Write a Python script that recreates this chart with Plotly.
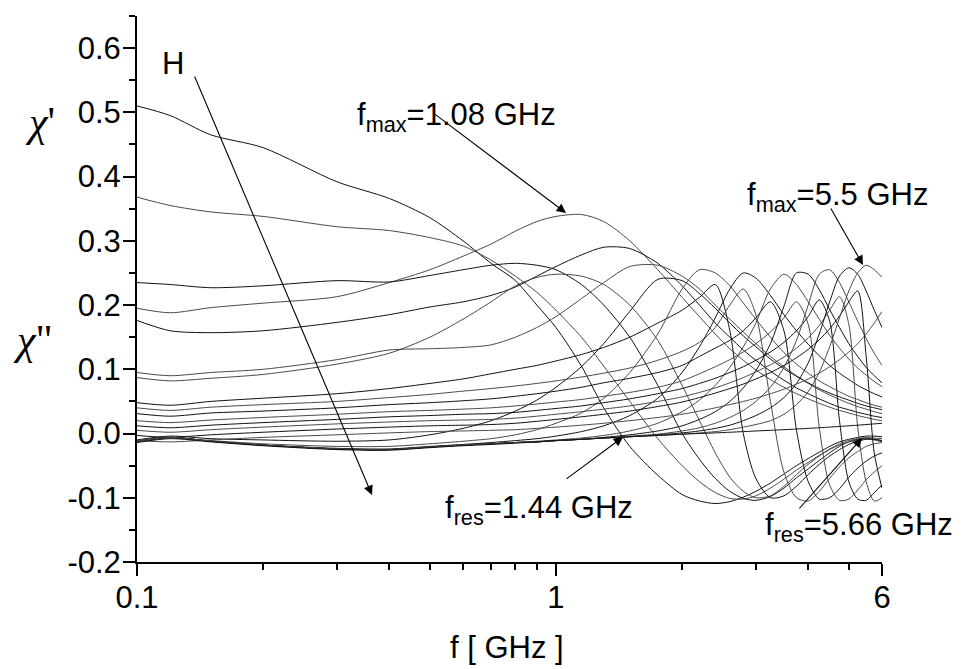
import math
import plotly.graph_objects as go

# frequency grid [GHz]
F = [0.1, 0.12, 0.15, 0.2, 0.3, 0.4, 0.5, 0.6, 0.7, 0.8, 0.9, 1.0, 1.15, 1.3, 1.5,
     1.75, 2.0, 2.2, 2.4, 2.6, 2.8, 3.0, 3.25, 3.5, 3.75, 4.0, 4.25, 4.5, 4.75, 5.0,
     5.25, 5.5, 5.75, 6.0]

# chi' (real part) for increasing field H
X1 = [0.510, 0.495, 0.465, 0.445, 0.392, 0.366, 0.336, 0.300, 0.265, 0.238, 0.200, 0.165, 0.105, 0.040, -0.020, -0.065, -0.095, -0.105, -0.109, -0.106, -0.099, -0.090, -0.077, -0.063, -0.050, -0.039, -0.029, -0.020, -0.013, -0.009, -0.006, -0.004, -0.004, -0.005]
X2 = [0.368, 0.355, 0.345, 0.338, 0.322, 0.316, 0.305, 0.292, 0.270, 0.245, 0.220, 0.192, 0.150, 0.105, 0.050, -0.008, -0.050, -0.075, -0.092, -0.101, -0.102, -0.097, -0.085, -0.071, -0.057, -0.045, -0.034, -0.024, -0.016, -0.011, -0.008, -0.006, -0.007, -0.008]
X3 = [0.235, 0.232, 0.227, 0.230, 0.238, 0.236, 0.246, 0.255, 0.262, 0.265, 0.262, 0.255, 0.232, 0.200, 0.150, 0.075, 0.000, -0.040, -0.070, -0.090, -0.101, -0.104, -0.098, -0.085, -0.069, -0.055, -0.042, -0.030, -0.020, -0.013, -0.009, -0.008, -0.009, -0.011]
X4 = [0.087, 0.082, 0.086, 0.092, 0.108, 0.125, 0.150, 0.178, 0.205, 0.230, 0.243, 0.248, 0.245, 0.232, 0.200, 0.145, 0.075, 0.020, -0.030, -0.068, -0.090, -0.100, -0.097, -0.082, -0.064, -0.048, -0.035, -0.025, -0.018, -0.013, -0.010, -0.008, -0.010, -0.013]
X5 = [0.048, 0.044, 0.050, 0.055, 0.062, 0.070, 0.078, 0.085, 0.093, 0.100, 0.106, 0.113, 0.123, 0.134, 0.150, 0.172, 0.192, 0.212, 0.232, 0.160, 0.000, -0.070, -0.100, -0.097, -0.082, -0.064, -0.048, -0.035, -0.025, -0.017, -0.012, -0.009, -0.009, -0.011]
X6 = [0.040, 0.036, 0.041, 0.045, 0.050, 0.056, 0.061, 0.066, 0.070, 0.074, 0.078, 0.082, 0.088, 0.094, 0.102, 0.114, 0.128, 0.142, 0.165, 0.200, 0.225, 0.185, 0.050, -0.060, -0.100, -0.105, -0.090, -0.070, -0.052, -0.038, -0.028, -0.020, -0.016, -0.014]
X7 = [0.031, 0.027, 0.032, 0.035, 0.040, 0.045, 0.048, 0.051, 0.054, 0.058, 0.062, 0.066, 0.072, 0.079, 0.086, 0.095, 0.106, 0.120, 0.133, 0.145, 0.160, 0.180, 0.205, 0.160, 0.005, -0.075, -0.102, -0.100, -0.086, -0.068, -0.054, -0.043, -0.035, -0.030]
X8 = [0.020, 0.017, 0.021, 0.025, 0.030, 0.034, 0.036, 0.038, 0.040, 0.043, 0.046, 0.049, 0.053, 0.058, 0.064, 0.072, 0.082, 0.093, 0.104, 0.115, 0.127, 0.140, 0.158, 0.180, 0.205, 0.170, 0.010, -0.080, -0.104, -0.102, -0.088, -0.072, -0.060, -0.050]
X9 = [0.012, 0.009, 0.013, 0.017, 0.022, 0.026, 0.028, 0.030, 0.031, 0.033, 0.036, 0.039, 0.043, 0.048, 0.054, 0.062, 0.070, 0.078, 0.086, 0.095, 0.104, 0.114, 0.127, 0.142, 0.160, 0.182, 0.208, 0.175, 0.020, -0.075, -0.102, -0.104, -0.092, -0.080]
X10 = [0.005, 0.002, 0.006, 0.010, 0.015, 0.018, 0.020, 0.021, 0.022, 0.024, 0.027, 0.030, 0.034, 0.038, 0.043, 0.050, 0.057, 0.064, 0.071, 0.079, 0.087, 0.096, 0.107, 0.119, 0.133, 0.149, 0.168, 0.192, 0.213, 0.170, 0.010, -0.075, -0.105, -0.100]
X11 = [-0.003, -0.006, -0.002, 0.002, 0.007, 0.010, 0.012, 0.013, 0.014, 0.016, 0.019, 0.022, 0.026, 0.030, 0.035, 0.042, 0.049, 0.056, 0.063, 0.070, 0.077, 0.085, 0.095, 0.106, 0.118, 0.131, 0.146, 0.163, 0.183, 0.205, 0.222, 0.120, -0.030, -0.085]
X12 = [-0.011, -0.013, -0.010, -0.006, -0.002, 0.001, 0.003, 0.004, 0.005, 0.006, 0.008, 0.010, 0.013, 0.016, 0.020, 0.025, 0.030, 0.035, 0.040, 0.045, 0.050, 0.055, 0.062, 0.069, 0.077, 0.085, 0.094, 0.104, 0.115, 0.127, 0.140, 0.155, 0.172, 0.190]

# chi'' (imaginary part) for increasing field H
Y1 = [0.195, 0.188, 0.196, 0.203, 0.213, 0.235, 0.255, 0.276, 0.295, 0.315, 0.330, 0.338, 0.341, 0.330, 0.300, 0.255, 0.212, 0.182, 0.155, 0.132, 0.114, 0.099, 0.084, 0.072, 0.062, 0.054, 0.047, 0.041, 0.036, 0.032, 0.028, 0.025, 0.022, 0.020]
Y2 = [0.176, 0.160, 0.157, 0.160, 0.173, 0.185, 0.197, 0.205, 0.215, 0.228, 0.245, 0.260, 0.278, 0.290, 0.288, 0.265, 0.230, 0.200, 0.172, 0.150, 0.130, 0.114, 0.097, 0.083, 0.071, 0.062, 0.054, 0.047, 0.041, 0.037, 0.033, 0.030, 0.027, 0.025]
Y3 = [0.095, 0.090, 0.095, 0.100, 0.115, 0.130, 0.132, 0.134, 0.138, 0.150, 0.165, 0.182, 0.210, 0.235, 0.260, 0.262, 0.245, 0.225, 0.200, 0.178, 0.158, 0.140, 0.120, 0.104, 0.090, 0.078, 0.068, 0.060, 0.053, 0.047, 0.042, 0.038, 0.034, 0.031]
Y4 = [-0.010, -0.004, -0.008, -0.010, -0.012, -0.010, -0.002, 0.008, 0.020, 0.035, 0.052, 0.072, 0.104, 0.140, 0.190, 0.240, 0.238, 0.218, 0.195, 0.172, 0.152, 0.135, 0.116, 0.101, 0.089, 0.079, 0.070, 0.063, 0.057, 0.052, 0.047, 0.043, 0.040, 0.037]
Y5 = [-0.013, -0.007, -0.011, -0.016, -0.020, -0.020, -0.016, -0.012, -0.008, -0.002, 0.006, 0.016, 0.032, 0.055, 0.095, 0.155, 0.225, 0.255, 0.250, 0.230, 0.203, 0.178, 0.150, 0.126, 0.108, 0.094, 0.082, 0.073, 0.065, 0.058, 0.053, 0.048, 0.044, 0.041]
Y6 = [-0.012, -0.006, -0.012, -0.018, -0.023, -0.024, -0.020, -0.017, -0.014, -0.011, -0.008, -0.004, 0.003, 0.012, 0.028, 0.055, 0.095, 0.135, 0.180, 0.225, 0.250, 0.242, 0.215, 0.185, 0.160, 0.139, 0.121, 0.106, 0.094, 0.084, 0.075, 0.068, 0.062, 0.057]
Y7 = [-0.012, -0.006, -0.012, -0.018, -0.024, -0.025, -0.021, -0.018, -0.016, -0.014, -0.012, -0.010, -0.007, -0.003, 0.004, 0.016, 0.034, 0.052, 0.075, 0.103, 0.135, 0.172, 0.225, 0.248, 0.232, 0.205, 0.178, 0.153, 0.133, 0.116, 0.102, 0.091, 0.081, 0.073]
Y8 = [-0.012, -0.006, -0.012, -0.018, -0.024, -0.025, -0.021, -0.018, -0.016, -0.014, -0.013, -0.011, -0.009, -0.006, -0.002, 0.004, 0.012, 0.022, 0.034, 0.050, 0.071, 0.098, 0.140, 0.198, 0.250, 0.248, 0.224, 0.193, 0.165, 0.140, 0.120, 0.103, 0.090, 0.079]
Y9 = [-0.012, -0.006, -0.012, -0.018, -0.024, -0.025, -0.021, -0.018, -0.016, -0.014, -0.013, -0.011, -0.009, -0.007, -0.004, -0.001, 0.004, 0.009, 0.016, 0.025, 0.036, 0.050, 0.072, 0.103, 0.145, 0.200, 0.248, 0.255, 0.235, 0.205, 0.175, 0.148, 0.125, 0.106]
Y10 = [-0.012, -0.006, -0.012, -0.018, -0.024, -0.025, -0.021, -0.018, -0.016, -0.014, -0.013, -0.011, -0.009, -0.007, -0.005, -0.002, 0.001, 0.004, 0.008, 0.013, 0.020, 0.028, 0.040, 0.056, 0.078, 0.110, 0.155, 0.205, 0.245, 0.258, 0.248, 0.222, 0.192, 0.165]
Y11 = [-0.012, -0.006, -0.012, -0.018, -0.024, -0.025, -0.021, -0.018, -0.016, -0.014, -0.013, -0.011, -0.009, -0.007, -0.005, -0.003, -0.001, 0.001, 0.003, 0.006, 0.010, 0.014, 0.020, 0.030, 0.045, 0.065, 0.095, 0.135, 0.180, 0.222, 0.250, 0.262, 0.255, 0.243]
Y12 = [-0.014, -0.008, -0.013, -0.019, -0.025, -0.026, -0.022, -0.019, -0.017, -0.015, -0.013, -0.011, -0.009, -0.007, -0.005, -0.003, -0.001, 0.000, 0.001, 0.002, 0.003, 0.004, 0.005, 0.006, 0.007, 0.008, 0.009, 0.010, 0.011, 0.012, 0.013, 0.014, 0.015, 0.016]

REAL = [X1, X2, X3, X4, X5, X6, X7, X8, X9, X10, X11, X12]
IMAG = [Y1, Y2, Y3, Y4, Y5, Y6, Y7, Y8, Y9, Y10, Y11, Y12]

Y_TICKS = [-0.2, -0.1, 0.0, 0.1, 0.2, 0.3, 0.4, 0.5, 0.6]
Y_TICKTEXT = ["-0.2", "-0.1", "0.0", "0.1", "0.2", "0.3", "0.4", "0.5", "0.6"]
X_TICKS = [0.1, 1, 6]
X_TICKTEXT = ["0.1", "1", "6"]
X_MINOR = [0.2, 0.3, 0.4, 0.5, 0.6, 0.7, 0.8, 0.9, 2, 3, 4, 5]

FONT = "Liberation Sans, Arial, sans-serif"
SERIF = "Liberation Serif, Times New Roman, serif"

fig = go.Figure()
for i, (re, im) in enumerate(zip(REAL, IMAG)):
    c1 = "#111111" if i % 2 == 0 else "#4a4a4a"
    c2 = "#4a4a4a" if i % 2 == 0 else "#111111"
    fig.add_trace(go.Scatter(x=F, y=re, mode="lines",
                             line=dict(color=c1, width=1, shape="spline", smoothing=0.8),
                             showlegend=False, hoverinfo="skip"))
    fig.add_trace(go.Scatter(x=F, y=im, mode="lines",
                             line=dict(color=c2, width=1, shape="spline", smoothing=0.8),
                             showlegend=False, hoverinfo="skip"))

L, T, R, B = 137, 16, 82, 107
W, H = 964, 669
PW, PH = W - L - R, H - T - B


def px(xp):
    return (xp - L) / PW


def py(yp):
    return (H - B - yp) / PH


ann = []
# axis symbols and title
ann.append(dict(text="<i>χ</i>'", x=px(40), y=py(122), xref="paper", yref="paper",
                xanchor="center", yanchor="middle", showarrow=False,
                font=dict(size=42, family=SERIF, color="black")))
ann.append(dict(text='<i>χ</i>"', x=px(33), y=py(340), xref="paper", yref="paper",
                xanchor="center", yanchor="middle", showarrow=False,
                font=dict(size=42, family=SERIF, color="black")))
ann.append(dict(text="f [ GHz ]", x=px(507), y=py(648), xref="paper", yref="paper",
                xanchor="center", yanchor="middle", showarrow=False,
                font=dict(size=31, family=FONT, color="black")))
ann.append(dict(text="H", x=px(173), y=py(63), xref="paper", yref="paper",
                xanchor="center", yanchor="middle", showarrow=False,
                font=dict(size=31, family=FONT, color="black")))

labels = [
    ("f<sub>max</sub>=1.08 GHz", 355, 117),
    ("f<sub>max</sub>=5.5 GHz", 745, 197),
    ("f<sub>res</sub>=1.44 GHz", 443, 510),
    ("f<sub>res</sub>=5.66 GHz", 763, 527),
]
for txt, xx, yy in labels:
    ann.append(dict(text=txt, x=px(xx), y=py(yy), xref="paper", yref="paper",
                    xanchor="left", yanchor="middle", showarrow=False,
                    font=dict(size=31, family=FONT, color="black")))

arrows = [
    ((194, 75), (372, 495)),
    ((432, 112), (566, 213)),
    ((830, 207), (863, 265)),
    ((565, 480), (623, 437)),
    ((798, 510), (862, 438)),
]
for (tx, ty), (hx, hy) in arrows:
    ann.append(dict(text="", x=px(hx), y=py(hy), xref="paper", yref="paper",
                    ax=tx - hx, ay=ty - hy, axref="pixel", ayref="pixel",
                    showarrow=True, arrowhead=2, arrowsize=1.7, arrowwidth=1.1,
                    arrowcolor="black", standoff=0))

fig.update_layout(
    width=W, height=H, autosize=False,
    margin=dict(l=L, r=R, t=T, b=B),
    paper_bgcolor="white", plot_bgcolor="white",
    showlegend=False,
    annotations=ann,
    xaxis=dict(type="log", range=[-1, math.log10(6)],
               tickmode="array", tickvals=X_TICKS, ticktext=X_TICKTEXT,
               ticks="outside", ticklen=12, tickwidth=2, tickcolor="black",
               showline=True, linewidth=2, linecolor="black",
               showgrid=False, zeroline=False,
               tickfont=dict(size=31, family=FONT, color="black"),
               ticklabelstandoff=-5,
               minor=dict(tickmode="array", tickvals=X_MINOR, ticks="outside",
                          ticklen=6, tickwidth=2, tickcolor="black", showgrid=False)),
    yaxis=dict(range=[-0.2, 0.65],
               tickmode="array", tickvals=Y_TICKS, ticktext=Y_TICKTEXT,
               ticks="outside", ticklen=12, tickwidth=2, tickcolor="black",
               showline=True, linewidth=2, linecolor="black",
               showgrid=False, zeroline=False,
               tickfont=dict(size=31, family=FONT, color="black"),
               ticklabelstandoff=-4,
               minor=dict(dtick=0.05, tick0=0, ticks="outside",
                          ticklen=6, tickwidth=2, tickcolor="black", showgrid=False)),
)

fig.write_html("out.html", config={"displayModeBar": False},
               post_script="document.body.style.margin='0px';document.body.style.overflow='hidden';")
